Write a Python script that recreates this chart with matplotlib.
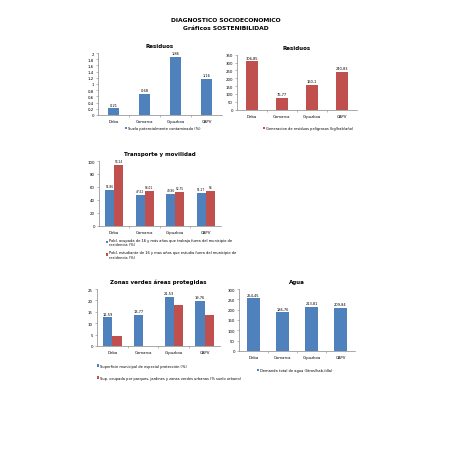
import matplotlib
matplotlib.use("Agg")
import matplotlib.pyplot as plt
import numpy as np

plt.rcParams['font.family'] = ['Liberation Sans Narrow', 'DejaVu Sans']

categories = ['Deba', 'Comarca', 'Gipuzkoa', 'CAPV']

suelo_contaminado = [0.21, 0.68, 1.86, 1.16]
residuos_peligrosos = [306.85, 76.77, 160.1, 240.83]
pobl_trabaja_fuera = [55.86, 47.52, 49.96, 51.27]
pobl_estudia_fuera = [94.24, 54.01, 52.75, 54.0]
sup_proteccion = [12.59, 13.77, 21.53, 19.76]
sup_zonas_verdes = [4.5, 0.0, 18.0, 13.5]
demanda_agua = [254.45, 186.76, 213.81, 209.84]

BLUE = '#4F81BD'
RED = '#C0504D'
W, H = 452, 452


def fmt(v, dec=2):
    s = ('%.' + str(dec) + 'f') % v
    s = s.rstrip('0').rstrip('.') if dec else s
    return s.replace('.', ',')


def make_axes(fig, x0, x1, y0, y1):
    return fig.add_axes([x0 / W, 1 - y1 / H, (x1 - x0) / W, (y1 - y0) / H])


def style(ax, ymax, step, title, tick_fmt=lambda v: str(int(v))):
    ax.set_xlim(-0.5, 3.5)
    ax.set_ylim(0, ymax)
    ticks = np.arange(0, ymax + step / 2, step)
    ax.set_yticks(ticks)
    ax.set_yticklabels([tick_fmt(t) for t in ticks])
    ax.set_xticks(range(4))
    ax.set_xticklabels(categories)
    ax.set_xticks([0.5, 1.5, 2.5], minor=True)
    for s in ['top', 'right']:
        ax.spines[s].set_visible(False)
    for s in ['left', 'bottom']:
        ax.spines[s].set_color('#868686')
        ax.spines[s].set_linewidth(0.5)
    ax.tick_params(axis='y', labelsize=2.8, length=1.5, width=0.4, pad=1.5, colors='#868686', labelcolor='black')
    ax.tick_params(axis='x', which='major', labelsize=2.8, length=0, pad=3)
    ax.tick_params(axis='x', which='minor', length=1.5, width=0.4, colors='#868686')
    ax.set_title(title, fontsize=4, fontweight='bold', pad=4)


def labels(ax, xs, vals, off, size=2.6):
    for x, v in zip(xs, vals):
        ax.text(x, v + off, fmt(v), ha='center', va='bottom', fontsize=size)


fig = plt.figure(figsize=(4.52, 4.52), dpi=100)
fig.text(0.5, 1 - 21 / H, 'DIAGNOSTICO SOCIOECONOMICO', ha='center', va='center', fontsize=4.3, fontweight='bold')
fig.text(0.5, 1 - 29 / H, 'Gráficos SOSTENIBILIDAD', ha='center', va='center', fontsize=4.3, fontweight='bold')

x = np.arange(4)

# Residuos (suelo)
ax1 = make_axes(fig, 98, 222, 54, 116)
ax1.bar(x, suelo_contaminado, 0.38, color=BLUE)
style(ax1, 2, 0.2, 'Residuos', lambda v: fmt(round(v, 1), 1) if v else '0')
labels(ax1, x, suelo_contaminado, 0.06)
ax1.legend(['Suelo potencialmente contaminado (%)'], loc='center', bbox_to_anchor=(163 / W, 1 - 129 / H),
           bbox_transform=fig.transFigure, frameon=False, fontsize=2.6, handlelength=0.6, handleheight=0.6,
           handletextpad=0.3, borderpad=0)

# Residuos peligrosos
ax2 = make_axes(fig, 237, 357, 55.7, 110.7)
ax2.bar(x, residuos_peligrosos, 0.42, color=RED)
style(ax2, 350, 50, 'Residuos')
labels(ax2, x, residuos_peligrosos, 10)
ax2.legend(['Generacion de residuos peligrosos (kg/hab/año)'], loc='center', bbox_to_anchor=(308 / W, 1 - 129 / H),
           bbox_transform=fig.transFigure, frameon=False, fontsize=2.6, handlelength=0.6, handleheight=0.6,
           handletextpad=0.3, borderpad=0)

# Transporte y movilidad
ax3 = make_axes(fig, 99, 221, 162, 227)
bw = 0.3
ax3.bar(x - bw / 2, pobl_trabaja_fuera, bw, color=BLUE)
ax3.bar(x + bw / 2, pobl_estudia_fuera, bw, color=RED)
style(ax3, 100, 20, 'Transporte y movilidad')
labels(ax3, x - bw / 2, pobl_trabaja_fuera, 2.5, size=2.1)
labels(ax3, x + bw / 2, pobl_estudia_fuera, 2.5, size=2.1)
ax3.legend(['Pobl. ocupada de 16 y más años que trabaja fuera del municipio de\nresidencia (%)',
            'Pobl. estudiante de 16 y mas años que estudia fuera del municipio de\nresidencia (%)'],
           loc='upper left', bbox_to_anchor=(104 / W, 1 - 237 / H), bbox_transform=fig.transFigure,
           frameon=False, fontsize=2.6, handlelength=0.6, handleheight=0.6, handletextpad=0.3,
           borderpad=0, labelspacing=1.0, alignment='left')

# Zonas verdes
ax4 = make_axes(fig, 97, 220, 290, 347)
bw = 0.3
ax4.bar(x - bw / 2, sup_proteccion, bw, color=BLUE)
ax4.bar(x + bw / 2, sup_zonas_verdes, bw, color=RED)
style(ax4, 25, 5, 'Zonas verdes áreas protegidas')
labels(ax4, x - bw / 2, sup_proteccion, 0.7)
ax4.legend(['Superficie municipal de especial protección (%)',
            'Sup. ocupada por parques, jardines y zonas verdes urbanas (% suelo urbano)'],
           loc='upper left', bbox_to_anchor=(95 / W, 1 - 363 / H), bbox_transform=fig.transFigure,
           frameon=False, fontsize=2.6, handlelength=0.6, handleheight=0.6, handletextpad=0.3,
           borderpad=0, labelspacing=2.2)

# Agua
ax5 = make_axes(fig, 239, 355, 290, 352)
ax5.bar(x, demanda_agua, 0.45, color=BLUE)
style(ax5, 300, 50, 'Agua')
labels(ax5, x, demanda_agua, 8)
ax5.legend(['Demanda total de agua (litros/hab./día)'], loc='center', bbox_to_anchor=(295 / W, 1 - 371 / H),
           bbox_transform=fig.transFigure, frameon=False, fontsize=2.6, handlelength=0.6, handleheight=0.6,
           handletextpad=0.3, borderpad=0)

fig.savefig('out.png', dpi=100)
